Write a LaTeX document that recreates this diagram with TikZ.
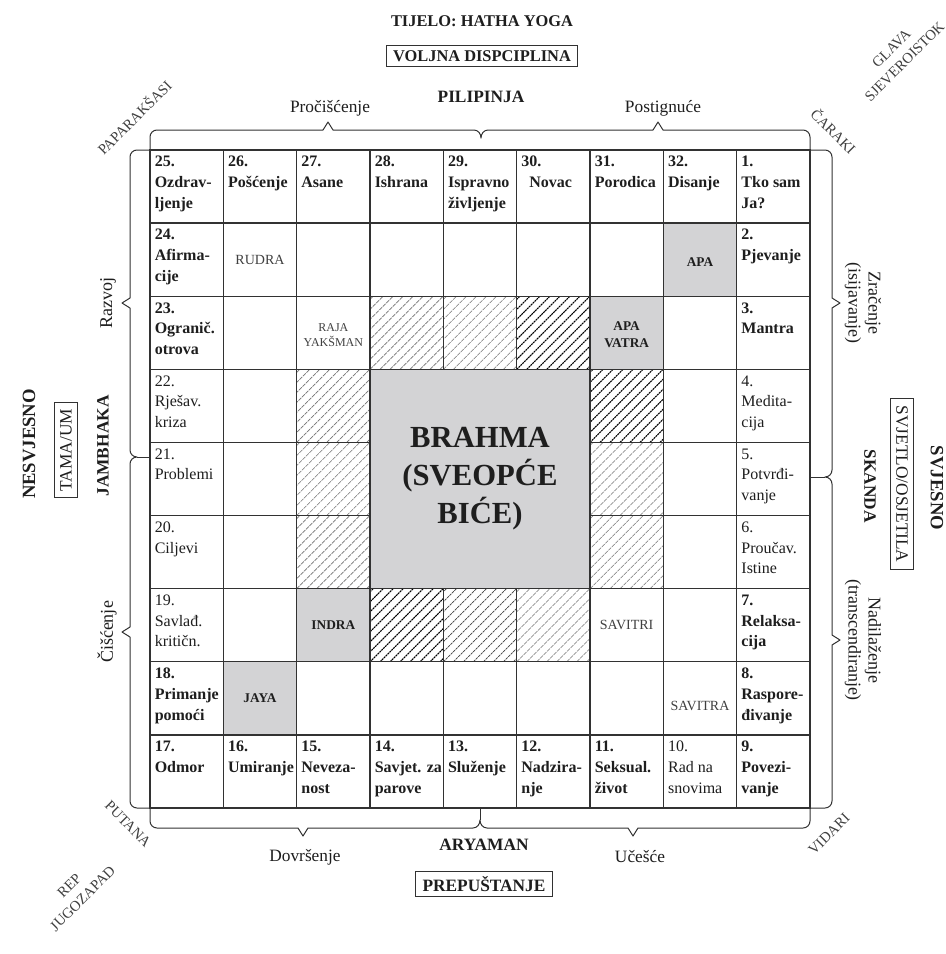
\documentclass[tikz,border=0pt]{standalone}
\usepackage{fontspec}
\setmainfont{Liberation Serif}
\definecolor{greyc}{RGB}{211,211,213}
\definecolor{linec}{RGB}{50,50,50}
\definecolor{txt}{RGB}{30,30,30}
\newcommand{\cellw}{73.333}
\newcommand{\cellh}{73.111}
\newcommand{\hatchcell}[3]{%
  \begin{scope}
    \clip ({150+#1*\cellw},{150+#2*\cellh}) rectangle ++(\cellw,\cellh);
    \foreach \k in {-8,...,8}
      \draw[#3] ({150+#1*\cellw+\k*10},{150+(#2+1)*\cellh}) -- ++(80,-80);
  \end{scope}}
\newcommand{\lbl}[4][lab]{\node[#1] (t#2-#3) at ({150+#2*\cellw+4.5},{150+#3*\cellh+6}) {#4};}
\begin{document}
\begin{tikzpicture}[x=0.75pt,y=-0.75pt,
  gridl/.style={draw=linec,line width=1pt,line cap=rect},
  brace/.style={draw=linec,line width=0.75pt,line join=round},
  lab/.style={anchor=north west,align=left,inner sep=0pt,text=txt,font=\fontsize{12}{15.5}\selectfont\bfseries},
  labr/.style={lab,font=\fontsize{12}{15.5}\selectfont},
  god/.style={align=center,inner sep=0pt,text=txt!85,font=\fontsize{10.5}{12}\selectfont},
  godsm/.style={align=center,inner sep=0pt,text=txt!85,font=\fontsize{9}{11}\selectfont},
  godb/.style={align=center,inner sep=0pt,text=txt,font=\fontsize{10}{13}\selectfont\bfseries},
  head/.style={text=txt,font=\fontsize{13}{15}\selectfont\bfseries},
  headbig/.style={text=txt,font=\fontsize{14}{16}\selectfont\bfseries},
  headtop/.style={text=txt,font=\fontsize{12.3}{14}\selectfont\bfseries},
  headr/.style={text=txt,font=\fontsize{13}{15}\selectfont},
  boxed/.style={draw=linec,line width=0.8pt,inner xsep=5pt,inner ysep=4pt},
  side/.style={text=txt,align=center,font=\fontsize{13.5}{15}\selectfont},
  corner/.style={text=txt!85,align=center,font=\fontsize{11}{14}\selectfont},
  hlight/.style={draw=black!55,line width=0.45pt,dash pattern=on 3pt off 0.7pt},
  hdark/.style={draw=black,line width=0.8pt,dash pattern=on 1.5pt off 0.5pt},
  hmid/.style={draw=black!75,line width=0.6pt,dash pattern=on 2pt off 0.6pt},
]
\fill[white] (0,0) rectangle (946,954);
\useasboundingbox (0,0) rectangle (946,954);

% grey cells
\foreach \c/\r in {7/1,6/2,2/6,1/7}
  \fill[greyc] ({150+\c*\cellw},{150+\r*\cellh}) rectangle ++(\cellw,\cellh);

% hatched cells
\hatchcell{3}{2}{hlight}
\hatchcell{4}{2}{hlight}
\hatchcell{5}{2}{hdark}
\hatchcell{2}{3}{hlight}
\hatchcell{2}{4}{hlight}
\hatchcell{2}{5}{hlight}
\hatchcell{6}{3}{hdark}
\hatchcell{6}{4}{hlight}
\hatchcell{6}{5}{hlight}
\hatchcell{3}{6}{hdark}
\hatchcell{4}{6}{hmid}
\hatchcell{5}{6}{hlight}

% grid
\foreach \i in {0,...,9} {
  \draw[gridl] ({150+\i*\cellw},150) -- ({150+\i*\cellw},808);
  \draw[gridl] (150,{150+\i*\cellh}) -- (810,{150+\i*\cellh});
}
% centre
\filldraw[gridl,fill=greyc] ({150+3*\cellw},{150+3*\cellh}) rectangle ({150+6*\cellw},{150+6*\cellh});
\node[align=center,text=txt,font=\fontsize{23}{28.5}\selectfont\bfseries] (brahma) at (480,479) {BRAHMA\\(SVEOPĆE\\BIĆE)};

% braces
\draw[brace] (150,150) -- (150,137) to[out=90,in=180] (157,130) -- (323,130) -- (328,122) -- (333,130) -- (474,130) to[out=0,in=90] (481,138) to[out=90,in=180] (488,130) -- (653,130) -- (658,122) -- (663,130) -- (803,130) to[out=0,in=90] (810,137) -- (810,150);
\draw[brace] (150,808) -- (150,821) to[out=-90,in=180] (157,828) -- (298,828) -- (303,836) -- (308,828) -- (473,828) to[out=0,in=-90] (480,820) to[out=-90,in=180] (487,828) -- (628,828) -- (633,836) -- (638,828) -- (803,828) to[out=0,in=-90] (810,821) -- (810,808);
\draw[brace] (480,808) -- (480,820);
\draw[brace] (150,150) -- (137,150) to[out=180,in=90] (130,157) -- (130,298) -- (122,303) -- (130,308) -- (130,450) to[out=-90,in=180] (137,457) to[out=180,in=90] (130,464) -- (130,627) -- (122,632) -- (130,637) -- (130,801) to[out=-90,in=180] (137,808) -- (150,808);
\draw[brace] (137,457) -- (150,457);
\draw[brace] (810,150) -- (825,150) to[out=0,in=90] (832,157) -- (832,298) -- (840,303) -- (832,308) -- (832,470) to[out=-90,in=0] (825,477) to[out=0,in=90] (832,484) -- (832,635) -- (840,640) -- (832,645) -- (832,801) to[out=-90,in=0] (825,808) -- (810,808);
\draw[brace] (825,477) -- (810,477);

% cell labels: top row
\lbl{0}{0}{25.\\Ozdrav-\\ljenje}
\lbl{1}{0}{26.\\Pošćenje}
\lbl{2}{0}{27.\\Asane}
\lbl{3}{0}{28.\\Ishrana}
\lbl{4}{0}{29.\\Ispravno\\življenje}
\lbl{5}{0}{30.\\\hspace*{6pt}Novac}
\lbl{6}{0}{31.\\Porodica}
\lbl{7}{0}{32.\\Disanje}
\lbl{8}{0}{1.\\Tko sam\\Ja?}
% right column
\lbl{8}{1}{2.\\Pjevanje}
\lbl{8}{2}{3.\\Mantra}
\lbl[labr]{8}{3}{4.\\Medita-\\cija}
\lbl[labr]{8}{4}{5.\\Potvrđi-\\vanje}
\lbl[labr]{8}{5}{6.\\Proučav.\\Istine}
\lbl{8}{6}{7.\\Relaksa-\\cija}
\lbl{8}{7}{8.\\Raspore-\\đivanje}
\lbl{8}{8}{9.\\Povezi-\\vanje}
% bottom row
\lbl[labr]{7}{8}{10.\\Rad na\\snovima}
\lbl{6}{8}{11.\\Seksual.\\život}
\lbl{5}{8}{12.\\Nadzira-\\nje}
\lbl{4}{8}{13.\\Služenje}
\lbl{3}{8}{14.\\Savjet. za\\parove}
\lbl{2}{8}{15.\\Neveza-\\nost}
\lbl{1}{8}{16.\\Umiranje}
\lbl{0}{8}{17.\\Odmor}
% left column
\lbl{0}{7}{18.\\Primanje\\pomoći}
\lbl[labr]{0}{6}{19.\\Savlađ.\\kritičn.}
\lbl[labr]{0}{5}{20.\\Ciljevi}
\lbl[labr]{0}{4}{21.\\Problemi}
\lbl[labr]{0}{3}{22.\\Rješav.\\kriza}
\lbl{0}{2}{23.\\Ogranič.\\otrova}
\lbl{0}{1}{24.\\Afirma-\\cije}

% inner names
\node[god] (rudra) at ({150+1.5*\cellw},{150+1.5*\cellh}) {RUDRA};
\node[godsm] (raja) at ({150+2.5*\cellw},{150+2.5*\cellh+2}) {RAJA\\YAKŠMAN};
\node[godb] (apa) at ({150+7.5*\cellw},{150+1.5*\cellh+2}) {APA};
\node[godb] (apavatra) at ({150+6.5*\cellw},{150+2.5*\cellh+2}) {APA\\VATRA};
\node[godb] (indra) at ({150+2.5*\cellw},{150+6.5*\cellh}) {INDRA};
\node[godb] (jaya) at ({150+1.5*\cellw},{150+7.5*\cellh}) {JAYA};
\node[god] (savitri) at ({150+6.5*\cellw},{150+6.5*\cellh}) {SAVITRI};
\node[god] (savitra) at ({150+7.5*\cellw},{150+7.5*\cellh+8}) {SAVITRA};

% top
\node[headtop] (title) at (482,21) {TIJELO: HATHA YOGA};
\node[headtop,boxed] (voljna) at (482,56) {VOLJNA DISPCIPLINA};
\node[head] (pilipinja) at (481,97) {PILIPINJA};
\node[headr] (proc) at (330,108) {Pročišćenje};
\node[headr] (post) at (663,108) {Postignuće};
% bottom
\node[head] (aryaman) at (484,845) {ARYAMAN};
\node[headr] (dovr) at (305,857) {Dovršenje};
\node[headr] (ucesce) at (640,857) {Učešće};
\node[head,boxed] (prep) at (484,884) {PREPUŠTANJE};
% left
\node[headbig,rotate=90] (nesvjesno) at (29,444) {NESVJESNO};
\node[headr,boxed,rotate=90] (tama) at (66,450) {TAMA/UM};
\node[head,rotate=90] (jambhaka) at (103,446) {JAMBHAKA};
\node[side,rotate=90] (razvoj) at (108,303) {Razvoj};
\node[side,rotate=90] (cisc) at (107,632) {Čišćenje};
% right
\node[headbig,rotate=-90] (svjesno) at (937,488) {SVJESNO};
\node[headr,boxed,rotate=-90] (svjetlo) at (902,484) {SVJETLO/OSJETILA};
\node[head,rotate=-90] (skanda) at (870,486) {SKANDA};
\node[side,rotate=-90] (zrac) at (863,303) {Zračenje\\(isijavanje)};
\node[side,rotate=-90] (nadil) at (863,640) {Nadilaženje\\(transcendiranje)};
% corners
\node[corner,rotate=45] (paparak) at (134,117) {PAPARAKŠASI};
\node[corner,rotate=45] (glava) at (898,55) {GLAVA\\SJEVEROISTOK};
\node[corner,rotate=-45] (caraki) at (834,131) {ČARAKI};
\node[corner,rotate=-45] (putana) at (128,824) {PUTANA};
\node[corner,rotate=45] (rep) at (76,892) {REP\\JUGOZAPAD};
\node[corner,rotate=45] (vidari) at (829,834) {VIDARI};
\end{tikzpicture}
\end{document}
